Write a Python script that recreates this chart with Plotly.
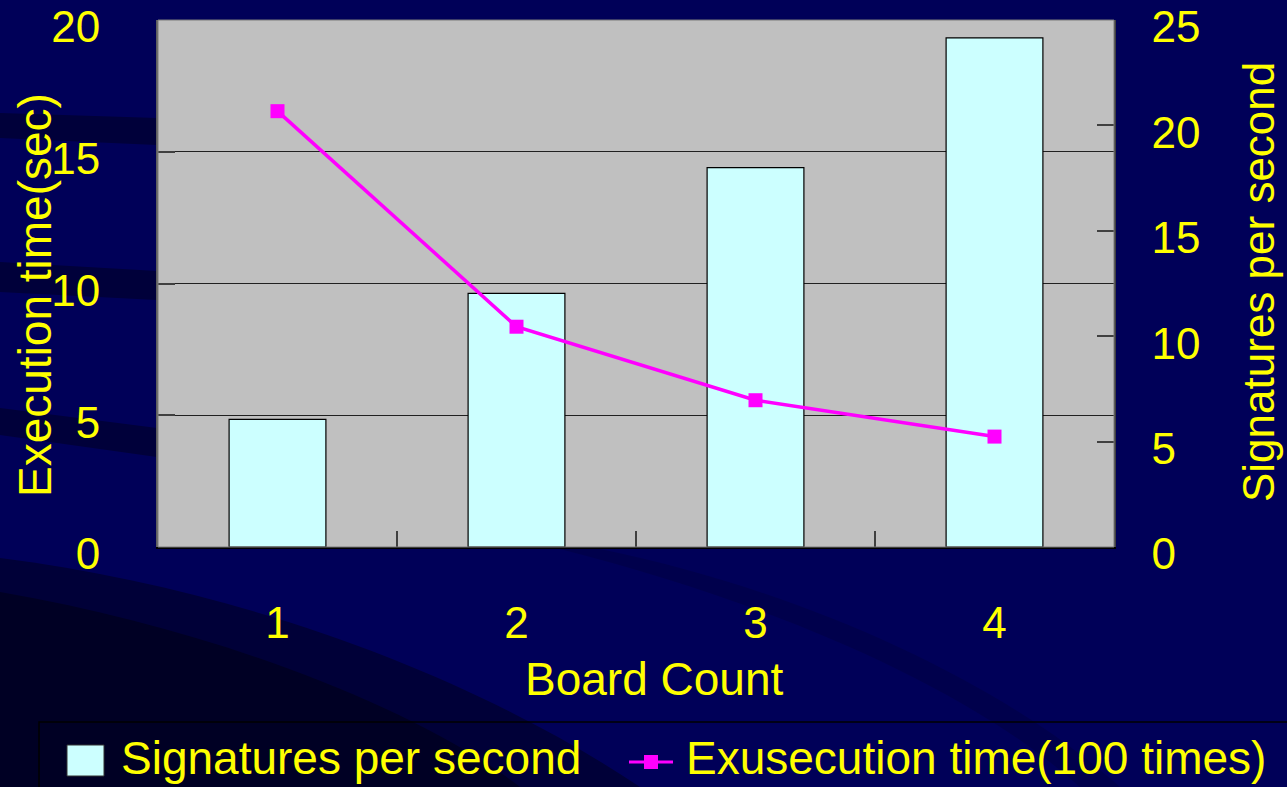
import plotly.graph_objects as go

# ---------------- data ----------------
board_counts = ["1", "2", "3", "4"]
signatures_per_second = [6.05, 12.03, 18.0, 24.15]
execution_time = [16.54, 8.36, 5.57, 4.19]
left_ticks = [0, 5, 10, 15, 20]
right_ticks = [0, 5, 10, 15, 20, 25]
grid_left = [5, 10, 15]

# ---------------- geometry helpers (pixels -> paper) ----------------
W, H = 1287, 787
L, R, T, B = 158, 173, 20, 240
PW, PH = W - L - R, H - T - B


def px(x):
    return (x - L) / PW


def py(y):
    return (H - B - y) / PH


YELLOW = "#FFFF00"
NAVY = "#000058"
FONT = "Liberation Sans, Arial, sans-serif"

fig = go.Figure()

fig.add_trace(go.Bar(
    x=board_counts, y=signatures_per_second, name="Signatures per second",
    marker=dict(color="#CCFFFF", line=dict(color="#000000", width=1.2)),
    width=0.405, yaxis="y", showlegend=False,
))
fig.add_trace(go.Scatter(
    x=board_counts, y=execution_time, name="Exusecution time(100 times)",
    mode="lines+markers", line=dict(color="#FF00FF", width=3.5),
    marker=dict(symbol="square", size=14, color="#FF00FF"),
    yaxis="y2", showlegend=False,
))

shapes = []


def poly(pts, color):
    d = "M " + " L ".join(f"{px(x):.4f},{py(y):.4f}" for x, y in pts) + " Z"
    return dict(type="path", path=d, xref="paper", yref="paper",
                fillcolor=color, line=dict(width=0), layer="below")


def curve(pts, color):
    s = f"M {px(pts[0][0]):.4f},{py(pts[0][1]):.4f}"
    rest = pts[1:]
    i = 0
    while i < len(rest):
        if rest[i] == "L":
            s += f" L {px(rest[i+1][0]):.4f},{py(rest[i+1][1]):.4f}"
            i += 2
        else:
            a, b, c = rest[i], rest[i+1], rest[i+2]
            s += (f" C {px(a[0]):.4f},{py(a[1]):.4f} {px(b[0]):.4f},{py(b[1]):.4f}"
                  f" {px(c[0]):.4f},{py(c[1]):.4f}")
            i += 3
    s += " Z"
    return dict(type="path", path=s, xref="paper", yref="paper",
                fillcolor=color, line=dict(width=0), layer="below")


# background swooshes (kept left of the plot area)
shapes.append(poly([(0, 113), (157, 118), (157, 145), (0, 138)], "#00003A"))
shapes.append(poly([(0, 262), (157, 271), (157, 300), (0, 292)], "#00003A"))
shapes.append(poly([(0, 408), (157, 428), (157, 457), (0, 435)], "#00003A"))
shapes.append(curve([(0, 558), (250, 590), (480, 680), (640, 787), "L", (0, 787)], "#000038"))
shapes.append(curve([(0, 592), (220, 630), (420, 710), (520, 787), "L", (0, 787)], "#000024"))
shapes.append(curve([(560, 549), (760, 600), (960, 680), (1080, 787), "L", (1120, 787),
                     (1000, 680), (800, 590), (600, 549)], "#00004C"))

# plot border (top/right faint)
shapes.append(dict(type="rect", xref="paper", yref="paper", x0=0, x1=1, y0=0, y1=1,
                   line=dict(color="#7A7A7A", width=1), layer="above"))

# custom legend
shapes.append(dict(type="rect", xref="paper", yref="paper",
                   x0=px(39), x1=px(1300), y0=py(722), y1=py(800),
                   line=dict(color="#000000", width=1.5), layer="above"))
shapes.append(dict(type="rect", xref="paper", yref="paper",
                   x0=px(67), x1=px(104), y0=py(745), y1=py(776),
                   fillcolor="#CCFFFF", line=dict(color="#333333", width=1), layer="above"))
shapes.append(dict(type="line", xref="paper", yref="paper",
                   x0=px(629), x1=px(673), y0=py(762), y1=py(762),
                   line=dict(color="#FF00FF", width=3), layer="above"))
shapes.append(dict(type="rect", xref="paper", yref="paper",
                   x0=px(644), x1=px(658), y0=py(755), y1=py(769),
                   fillcolor="#FF00FF", line=dict(width=0), layer="above"))

annotations = [
    dict(text="Signatures per second", x=px(119), y=py(758), xref="paper", yref="paper",
         xanchor="left", yanchor="middle", showarrow=False,
         font=dict(size=46, color=YELLOW, family=FONT)),
    dict(text="Exusecution time(100 times)", x=px(684), y=py(758), xref="paper", yref="paper",
         xanchor="left", yanchor="middle", showarrow=False,
         font=dict(size=46, color=YELLOW, family=FONT)),
    dict(text="Execution time(sec)", x=px(35), y=py(295), xref="paper", yref="paper",
         xanchor="center", yanchor="middle", textangle=-90, showarrow=False,
         font=dict(size=46, color=YELLOW, family=FONT)),
    dict(text="Signatures per second", x=px(1258), y=py(282), xref="paper", yref="paper",
         xanchor="center", yanchor="middle", textangle=-90, showarrow=False,
         font=dict(size=44, color=YELLOW, family=FONT)),
    dict(text="Board Count", x=px(654), y=py(679), xref="paper", yref="paper",
         xanchor="center", yanchor="middle", showarrow=False,
         font=dict(size=46, color=YELLOW, family=FONT)),
]

grid_right = [v * right_ticks[-1] / left_ticks[-1] for v in grid_left]

fig.update_layout(
    width=W, height=H,
    margin=dict(l=L, r=R, t=T, b=B, autoexpand=False),
    paper_bgcolor=NAVY, plot_bgcolor="#C0C0C0",
    font=dict(family=FONT, color=YELLOW),
    bargap=0.6,
    xaxis=dict(type="category", range=[-0.5, 3.5], tickson="boundaries",
               ticks="inside", ticklen=16, tickwidth=1.5, tickcolor="#404040",
               showline=True, linecolor="#000000", linewidth=2,
               showgrid=False, zeroline=False, ticklabelstandoff=36,
               tickfont=dict(size=44, color=YELLOW, family=FONT)),
    yaxis=dict(side="right", range=[0, 25], tickvals=right_ticks,
               ticks="inside", ticklen=17, tickwidth=1.5, tickcolor="#404040",
               showline=True, linecolor="#404040", linewidth=1.5,
               showgrid=False, zeroline=False, ticklabelstandoff=27,
               ticklabeloverflow="allow", ticklabelshift=7,
               minor=dict(tickvals=grid_right, showgrid=True, gridcolor="#202020",
                          gridwidth=1, ticks=""),
               tickfont=dict(size=44, color=YELLOW, family=FONT)),
    yaxis2=dict(side="left", overlaying="y", range=[0, 20], tickvals=left_ticks,
                ticks="inside", ticklen=17, tickwidth=1.5, tickcolor="#404040",
                showline=True, linecolor="#606060", linewidth=2,
                showgrid=False, zeroline=False, ticklabelstandoff=47,
                ticklabeloverflow="allow", ticklabelshift=7,
                tickfont=dict(size=44, color=YELLOW, family=FONT)),
    shapes=shapes, annotations=annotations, showlegend=False,
)

fig.write_html("out.html", config={"displayModeBar": False},
               post_script="document.body.style.margin='0px';")
